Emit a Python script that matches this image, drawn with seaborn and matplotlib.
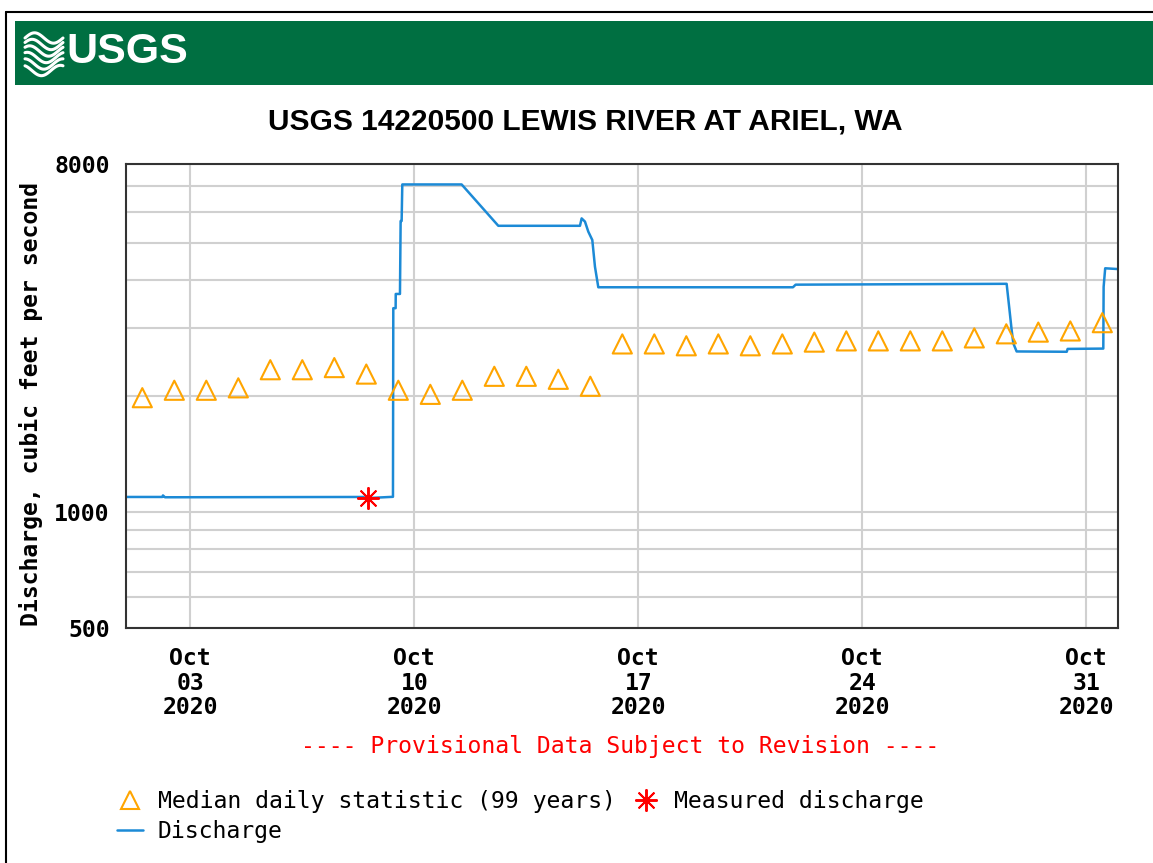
import numpy as np
import pandas as pd
import matplotlib
matplotlib.use('Agg')
import matplotlib.pyplot as plt
from matplotlib.lines import Line2D
from matplotlib.patches import Rectangle
from matplotlib.ticker import FixedLocator, NullFormatter
import seaborn as sns

# ---- data ----
discharge_time = ["2020-10-01 00:00", "2020-10-02 03:00", "2020-10-02 03:30", "2020-10-02 05:00",
                  "2020-10-08 10:00", "2020-10-08 11:00", "2020-10-08 16:00", "2020-10-09 08:00",
                  "2020-10-09 08:15", "2020-10-09 10:00", "2020-10-09 10:05", "2020-10-09 13:15",
                  "2020-10-09 13:45", "2020-10-09 14:30", "2020-10-09 15:00", "2020-10-11 11:30",
                  "2020-10-12 15:00", "2020-10-15 04:15", "2020-10-15 05:30", "2020-10-15 08:00",
                  "2020-10-15 10:30", "2020-10-15 13:30", "2020-10-15 15:30", "2020-10-15 18:00",
                  "2020-10-21 20:00", "2020-10-21 22:00", "2020-10-28 12:15", "2020-10-28 14:15",
                  "2020-10-28 16:00", "2020-10-28 17:15", "2020-10-28 19:45", "2020-10-30 09:20",
                  "2020-10-30 10:00", "2020-10-31 12:45", "2020-10-31 13:00", "2020-10-31 14:10",
                  "2020-10-31 23:45"]
discharge_cfs = [1094, 1094, 1104, 1092,
                 1094, 1085, 1088, 1095,
                 3380, 3380, 3680, 3680,
                 5690, 5690, 7080, 7080,
                 5530, 5530, 5780, 5670,
                 5340, 5080, 4330, 3830,
                 3830, 3890, 3910, 3380,
                 2970, 2740, 2610, 2605,
                 2650, 2655, 3840, 4290,
                 4270]

median_days = pd.date_range("2020-10-01 12:00", periods=31, freq="D")
median_cfs = [1980, 2070, 2070, 2100, 2340, 2340, 2370, 2280, 2070, 2020,
              2070, 2250, 2250, 2210, 2120, 2730, 2730, 2700, 2730, 2700,
              2730, 2760, 2780, 2780, 2780, 2780, 2830, 2900, 2930, 2950, 3100]

measured_time = ["2020-10-08 13:00"]
measured_cfs = [1090]

xtick_dates = ["2020-10-03", "2020-10-10", "2020-10-17", "2020-10-24", "2020-10-31"]
xtick_labels = ["Oct\n03\n2020", "Oct\n10\n2020", "Oct\n17\n2020", "Oct\n24\n2020", "Oct\n31\n2020"]
ytick_major = [500, 1000, 8000]
ytick_minor = [600, 700, 800, 900, 2000, 3000, 4000, 5000, 6000, 7000]

q = pd.DataFrame({"time": pd.to_datetime(discharge_time), "cfs": discharge_cfs})
med = pd.DataFrame({"time": median_days, "cfs": median_cfs})
meas = pd.DataFrame({"time": pd.to_datetime(measured_time), "cfs": measured_cfs})

sns.set_style("white")
plt.rcParams['font.family'] = ['DejaVu Sans Mono', 'DejaVu Sans']
plt.rcParams['text.color'] = 'black'
plt.rcParams['xtick.color'] = 'black'
plt.rcParams['ytick.color'] = 'black'

W, H = 1153, 863
def fx(x): return x / W
def fy(y): return 1 - y / H

BLUE = '#1c8ad6'
ORANGE = '#ffa500'
FS = 16.7

fig = plt.figure(figsize=(W / 100, H / 100), dpi=100)

# page frame + banner
fig.add_artist(Line2D([fx(6), fx(6)], [fy(12), 0], color='black', lw=1.5))
fig.add_artist(Line2D([fx(6), 1], [fy(12), fy(12)], color='black', lw=1.5))
fig.add_artist(Rectangle((fx(15), fy(85)), 1 - fx(15), fy(21) - fy(85), color='#006f41', lw=0))
# wave mark of the logo
xs = np.linspace(fx(25), fx(63), 60)
for k in range(6):
    base = fy(38 + k * 6.5)
    fig.add_artist(Line2D(xs, base + 0.006 * np.sin((xs - xs[0]) / (xs[-1] - xs[0]) * 2 * np.pi + k * 0.4),
                          color='white', lw=2.2))
fig.text(fx(66), fy(52), "USGS", color='white', fontsize=31, fontweight='bold',
         family=['Liberation Sans'], ha='left', va='center')

fig.text(fx(585), fy(121), "USGS 14220500 LEWIS RIVER AT ARIEL, WA", fontsize=21.5,
         fontweight='bold', family=['Liberation Sans'], ha='center', va='center')

ax = fig.add_axes([fx(126.3), fy(628), fx(1118.3) - fx(126.3), fy(164) - fy(628)])
ax.set_axisbelow(True)

sns.lineplot(data=q, x="time", y="cfs", ax=ax, color=BLUE, lw=1.8, legend=False)
ax.scatter(med["time"], med["cfs"], marker='^', s=190, facecolors='none',
           edgecolors=ORANGE, linewidths=1.5, zorder=3)
ax.plot(meas["time"], meas["cfs"], ls='none', marker=(8, 2, 0), ms=16, mew=1.4,
        color='red', zorder=4)

ax.set_yscale('log')
ax.set_ylim(500, 8000)
ax.yaxis.set_major_locator(FixedLocator(ytick_major))
ax.yaxis.set_minor_locator(FixedLocator(ytick_minor))
ax.yaxis.set_minor_formatter(NullFormatter())
ax.set_yticks(ytick_major, labels=[str(v) for v in ytick_major])

ax.set_xlim(pd.Timestamp("2020-10-01 00:00"), pd.Timestamp("2020-11-01 00:00"))
ax.set_xticks(pd.to_datetime(xtick_dates), labels=xtick_labels, linespacing=1.1)

ax.grid(True, which='both', axis='y', color='#d0d0d0', lw=1.5)
ax.grid(True, which='major', axis='x', color='#d0d0d0', lw=1.5)
ax.tick_params(axis='both', which='both', length=0, labelsize=FS, labelcolor='black')
ax.tick_params(axis='x', pad=13.5)
ax.tick_params(axis='y', pad=12)
for lab in ax.get_xticklabels() + ax.get_yticklabels():
    lab.set_fontweight('bold')
ax.set_xlabel("")
ax.set_ylabel("")
for s in ax.spines.values():
    s.set_color('#333333')
    s.set_linewidth(1.5)

fig.text(fx(31), fy(404), "Discharge, cubic feet per second", rotation=90,
         fontsize=FS, fontweight='bold', ha='center', va='center')

fig.text(fx(620), fy(746), "---- Provisional Data Subject to Revision ----", color='red',
         fontsize=FS, ha='center', va='center')

handles = [
    Line2D([], [], ls='none', marker='^', ms=13.5, mfc='none', mec=ORANGE, mew=1.5),
    Line2D([], [], color=BLUE, lw=1.8),
    Line2D([], [], ls='none', marker=(8, 2, 0), ms=16, mew=1.4, color='red'),
]
labels = ["Median daily statistic (99 years)", "Discharge", "Measured discharge"]
fig.legend(handles, labels, ncol=2, loc='upper left', bbox_to_anchor=(fx(117), fy(790)),
           frameon=False, prop={'size': FS}, handlelength=1.12, handletextpad=0.64,
           columnspacing=0.75, labelspacing=0.3, borderpad=0, borderaxespad=0)

fig.savefig("out.png", dpi=100, facecolor='white')
